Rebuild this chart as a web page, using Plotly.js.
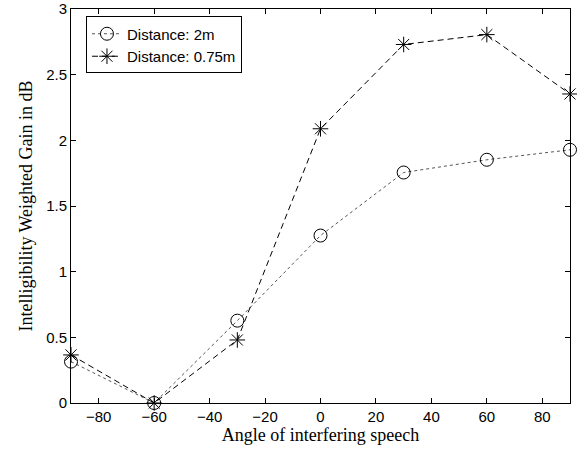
<!DOCTYPE html>
<html>
<head>
<meta charset="utf-8">
<script src="https://cdn.plot.ly/plotly-3.0.1.min.js"></script>
<style>html,body{margin:0;padding:0;background:#fff;}#chart{width:577px;height:452px;}</style>
</head>
<body>
<div id="chart"></div>
<script>
var angles = [-90, -60, -30, 0, 30, 60, 90];
var gain2m = [0.315, 0.0, 0.627, 1.275, 1.755, 1.852, 1.928];
var gain075m = [0.366, 0.0, 0.48, 2.088, 2.73, 2.805, 2.353];
var seriesNames = ['Distance: 2m', 'Distance: 0.75m'];
var xTicks = [-80, -60, -40, -20, 0, 20, 40, 60, 80];
var yTicks = [0, 0.5, 1, 1.5, 2, 2.5, 3];
var yTickLabels = ['0', '0.5', '1', '1.5', '2', '2.5', '3'];

var traces = [
  {
    x: angles, y: gain2m, name: seriesNames[0], type: 'scatter', mode: 'lines+markers',
    line: {color: '#555', width: 1, dash: 'dot'},
    marker: {symbol: 'circle-open', size: 13, color: '#000', line: {color: '#000', width: 1}},
    cliponaxis: false
  },
  {
    x: angles, y: gain075m, name: seriesNames[1], type: 'scatter', mode: 'lines+markers',
    line: {color: '#000', width: 1, dash: '6px,4px'},
    marker: {symbol: 'asterisk-open', size: 13, color: '#000', line: {color: '#000', width: 1}},
    cliponaxis: false
  }
];

var axisCommon = {
  showgrid: false, zeroline: false, showline: true, linecolor: '#000', linewidth: 1,
  mirror: 'ticks', ticks: 'inside', ticklen: 5, tickwidth: 1, tickcolor: '#000',
  tickfont: {family: 'Liberation Sans, Arial, sans-serif', size: 15, color: '#000'}
};

var layout = {
  width: 577, height: 452,
  margin: {l: 71, r: 7, t: 9, b: 49},
  paper_bgcolor: '#fff', plot_bgcolor: '#fff',
  showlegend: true,
  hovermode: false,
  xaxis: Object.assign({}, axisCommon, {
    range: [-90, 90], tickvals: xTicks,
    title: {text: 'Angle of interfering speech', font: {family: 'Liberation Serif, Times New Roman, serif', size: 18, color: '#000'}, standoff: 4}
  }),
  yaxis: Object.assign({}, axisCommon, {
    range: [0, 3], tickvals: yTicks, ticktext: yTickLabels,
    title: {text: 'Intelligibility Weighted Gain in dB', font: {family: 'Liberation Serif, Times New Roman, serif', size: 18, color: '#000'}, standoff: 8}
  }),
  legend: {
    x: 0.03, y: 0.981, xanchor: 'left', yanchor: 'top',
    bgcolor: '#fff', bordercolor: '#000', borderwidth: 1,
    font: {family: 'Liberation Sans, Arial, sans-serif', size: 15, color: '#000'},
    tracegroupgap: 0
  }
};

Plotly.newPlot('chart', traces, layout, {staticPlot: true, displayModeBar: false});
</script>
</body>
</html>
